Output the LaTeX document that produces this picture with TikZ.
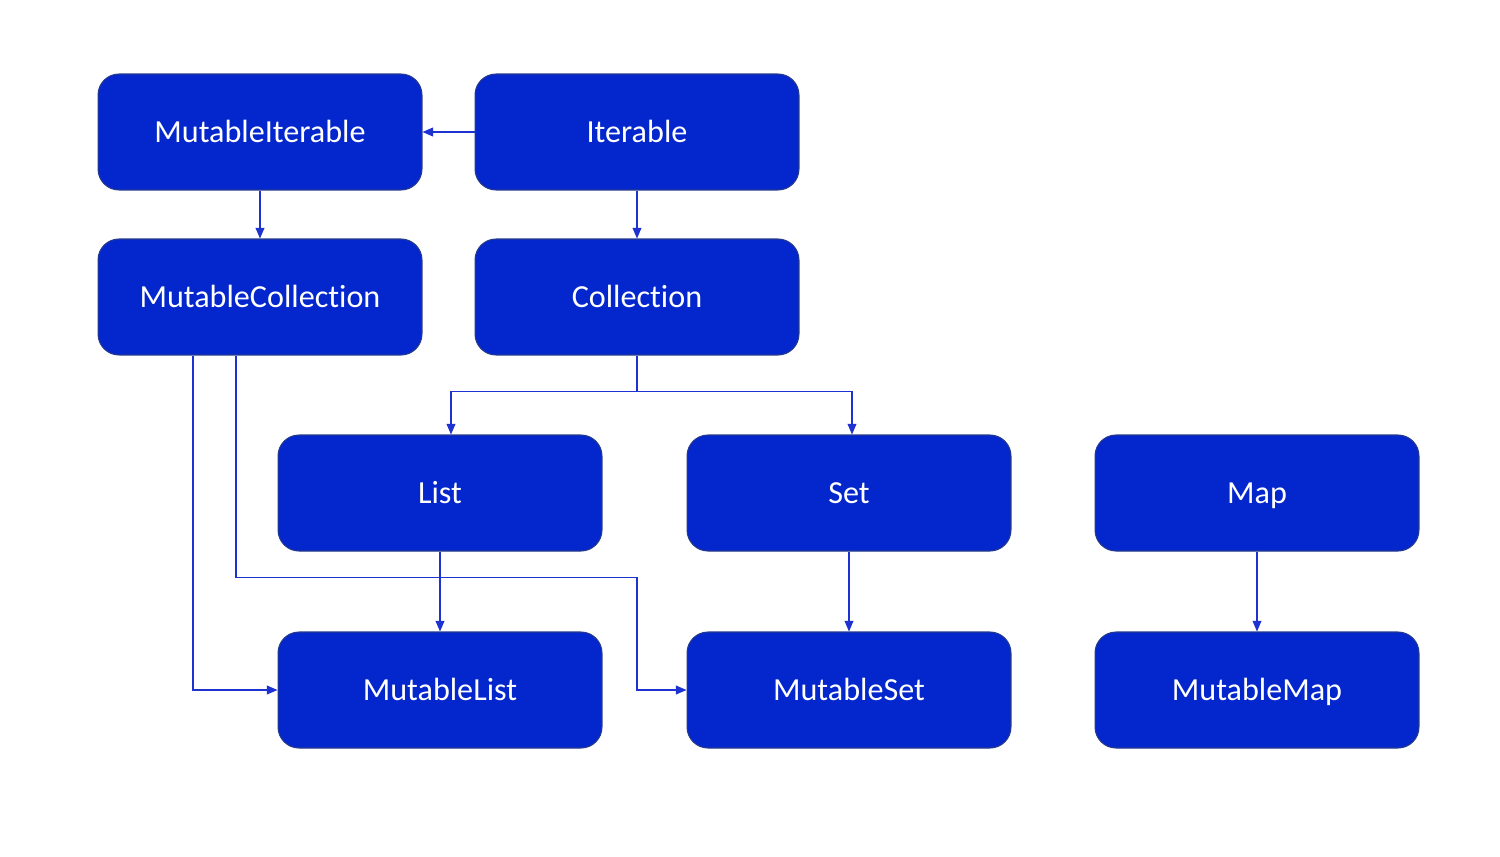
\documentclass[tikz,border=0pt]{standalone}
\usepackage{fontspec}
\setmainfont{Carlito}[Ligatures=NoCommon]
\usetikzlibrary{arrows.meta,positioning}
\definecolor{boxblue}{RGB}{3,39,204}
\definecolor{boxedge}{RGB}{38,58,140}
\definecolor{lineblue}{RGB}{30,50,210}

\begin{document}
\begin{tikzpicture}[x=0.02cm,y=-0.02cm,
  box/.style={draw=boxedge,fill=boxblue,rounded corners=0.42cm,minimum width=6.48cm,minimum height=2.32cm,text=white,font=\fontsize{18.3}{22}\selectfont,text height=12pt,text depth=0pt,line width=0.6pt},
  link/.style={lineblue,line width=0.6pt,-{Triangle[length=6pt,width=5pt]}}]
\useasboundingbox (0,0) rectangle (1500,856);
\draw (260,132) node (mi) [box] {MutableIterable};
\draw (637,132) node (it) [box] {Iterable};
\draw (260,297) node (mc) [box] {MutableCollection};
\draw (637,297) node (co) [box] {Collection};
\draw (440,493) node (li) [box] {List};
\draw (849,493) node (se) [box] {Set};
\draw (1257,493) node (ma) [box] {Map};
\draw (440,690) node (ml) [box] {MutableList};
\draw (849,690) node (ms) [box] {MutableSet};
\draw (1257,690) node (mm) [box] {MutableMap};
\draw[link] (it)--(mi);
\draw[link] (mi)--(mc);
\draw[link] (it)--(co);
\draw[link] (co.south) -- ++(0,36) -| ([xshift=0.22cm]li.north);
\draw[link] (co.south) -- ++(0,36) -| ([xshift=0.06cm]se.north);
\draw[link] (li)--(ml);
\draw[link] (se)--(ms);
\draw[link] (ma)--(mm);
\draw[link] ([xshift=-1.34cm]mc.south) |- (ml.west);
\draw[link] ([xshift=-0.48cm]mc.south) -- ++(0,222) -| (637,690) -- (ms.west);
\end{tikzpicture}
\end{document}
